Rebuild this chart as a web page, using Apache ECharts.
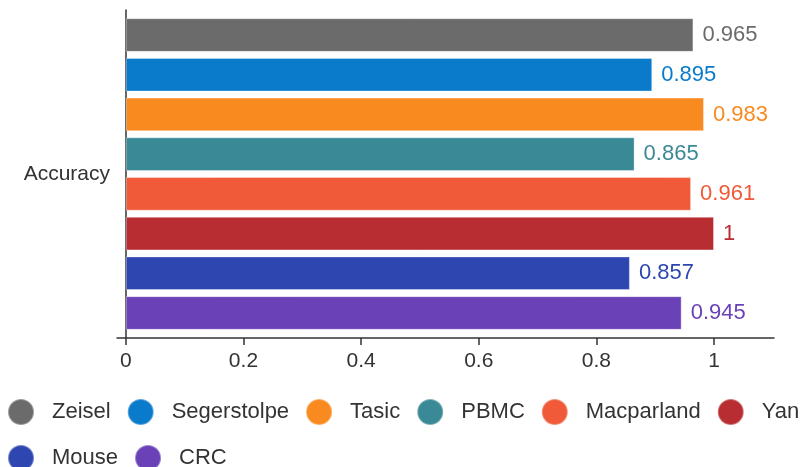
<!DOCTYPE html>
<html>
<head>
<meta charset="utf-8">
<script src="https://cdn.jsdelivr.net/npm/echarts@6/dist/echarts.min.js"></script>
<style>
  html, body { margin: 0; padding: 0; background: #fff; }
  #chart { width: 810px; height: 467px; }
</style>
</head>
<body>
<div id="chart"></div>
<script>
// Accuracy per dataset
const categories = ['Accuracy'];
const datasets = ['Zeisel', 'Segerstolpe', 'Tasic', 'PBMC', 'Macparland', 'Yan', 'Mouse', 'CRC'];
const accuracy = [0.965, 0.895, 0.983, 0.865, 0.961, 1, 0.857, 0.945];
const colors = ['#6b6b6b', '#0a7acb', '#f98a1f', '#3a8996', '#f05a38', '#b72d32', '#2e47b0', '#6b41b8'];
const xTicks = [0, 0.2, 0.4, 0.6, 0.8, 1];

const font = 'Liberation Sans, Arial, sans-serif';

const chart = echarts.init(document.getElementById('chart'));

const series = datasets.map((name, i) => ({
  name: name,
  type: 'bar',
  data: [accuracy[i]],
  barGap: '18%',
  barCategoryGap: '5%',
  itemStyle: { color: colors[i], borderColor: 'rgba(255,255,255,0.35)', borderWidth: 1 },
  label: {
    show: true,
    position: 'right',
    distance: 9,
    color: colors[i],
    fontSize: 22,
    fontFamily: font,
    formatter: p => String(p.value)
  }
}));

chart.setOption({
  animation: false,
  color: colors,
  grid: { left: 117, right: 36, top: 10, bottom: 129, containLabel: false },
  legend: {
    data: datasets,
    left: 7,
    top: 397,
    width: 803,
    padding: 0,
    icon: 'circle',
    itemWidth: 26,
    itemHeight: 26,
    itemGap: 16,
    textStyle: { fontSize: 22, lineHeight: 30, fontFamily: font, color: '#333', padding: [0, 0, 0, 13] }
  },
  xAxis: {
    type: 'value',
    min: -0.015,
    max: 1.102,
    splitLine: { show: false },
    axisLine: { show: true, lineStyle: { color: '#333', width: 1.5 } },
    axisTick: { show: true, customValues: xTicks, length: 7, lineStyle: { color: '#333', width: 1.5 } },
    axisLabel: { customValues: xTicks, fontSize: 21, fontFamily: font, color: '#333', margin: 13 }
  },
  yAxis: {
    type: 'category',
    data: categories,
    inverse: true,
    axisLine: { show: true, onZero: true, lineStyle: { color: '#333', width: 1.5 } },
    axisTick: { show: false },
    axisLabel: { fontSize: 21, fontFamily: font, color: '#333', margin: 7 }
  },
  series: series
});
</script>
</body>
</html>
